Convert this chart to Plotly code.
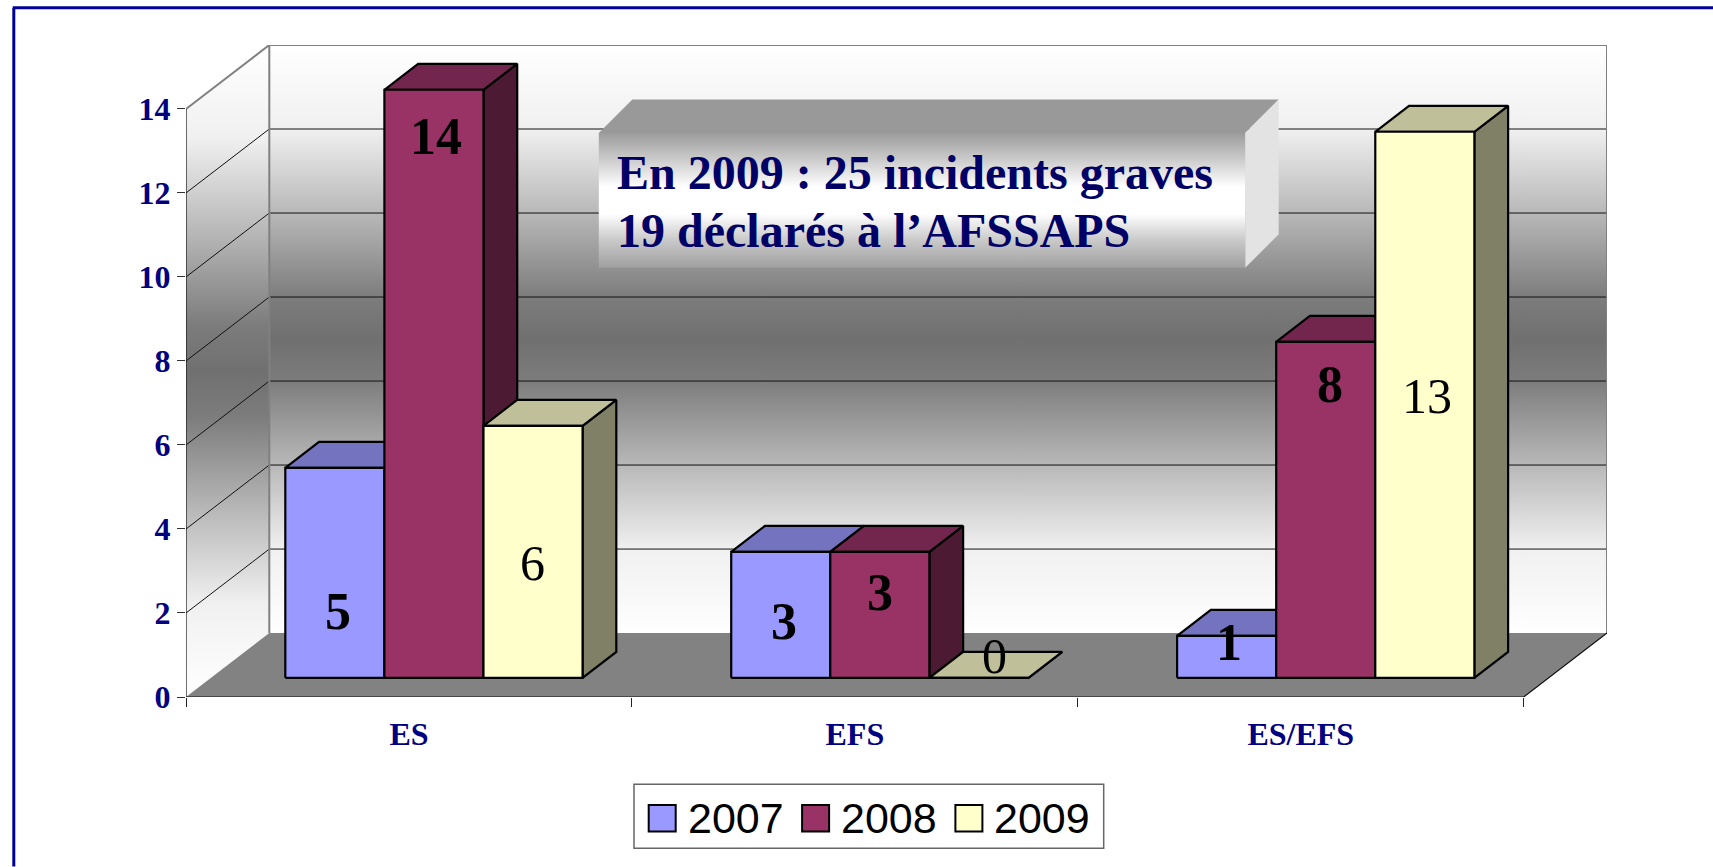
import plotly.graph_objects as go

# ---- data ----
CATEGORIES = ["ES", "EFS", "ES/EFS"]
YEARS = ["2007", "2008", "2009"]
V2007 = [5, 3, 1]
V2008 = [14, 3, 8]
V2009 = [6, 0, 13]
Y_TICKS = [0, 2, 4, 6, 8, 10, 12, 14]

# ---- style / layout constants ----
W, H = 1713, 867
L, R, T, B = 185.6, 1606.6, 44.7, 697.3     # plot rectangle in px
FRONT_R = 1523.3
CAT_PX = (FRONT_R - L) / 3
UNIT_PX = (B - T - 64.0) / 14
DX = (R - FRONT_R) / CAT_PX                 # depth in category units
DY = 64.0 / UNIT_PX                         # depth in value units
Z0, Z1 = 0.30, 0.705
BAR_W = 1 / 4.5
FACE = ["#9999FF", "#993366", "#FFFFCC"]
TOP = ["#7373BF", "#73264D", "#BFBF99"]
SIDE = ["#4D4D80", "#4D1A33", "#808066"]
NAVY = "#000080"
DARK = "#000066"
SERIF = "Liberation Serif"
WALL = [[0, "#FFFFFF"], [0.143, "#F0F0F0"], [0.286, "#B8B8B8"], [0.43, "#7C7C7C"], [0.5, "#707070"],
        [0.57, "#7C7C7C"], [0.714, "#B8B8B8"], [0.857, "#F0F0F0"], [1, "#FFFFFF"]]
BOX = [[0, "#A0A0A0"], [0.2, "#C8C8C8"], [0.4, "#FFFFFF"], [0.6, "#FFFFFF"], [0.8, "#CCCCCC"], [1, "#9C9C9C"]]

def proj(c, v, z):
    return c + z * DX, v + z * DY

def px(xp, yp):
    return (xp - L) / CAT_PX, (B - yp) / UNIT_PX

def fx(xp):
    return (xp - L) / (R - L)

def fy(yp):
    return (B - yp) / (B - T)

def poly(points, fill=None, line="#000000", width=2.2, grad=None):
    xs = [p[0] for p in points] + [points[0][0]]
    ys = [p[1] for p in points] + [points[0][1]]
    kw = dict(fillgradient=dict(type="vertical", colorscale=grad)) if grad else dict(fillcolor=fill)
    return go.Scatter(x=xs, y=ys, mode="lines", fill="toself",
                      line=dict(color=line, width=width), showlegend=False, hoverinfo="skip", **kw)

def seg(points, color, width):
    return go.Scatter(x=[p[0] for p in points], y=[p[1] for p in points], mode="lines",
                      line=dict(color=color, width=width), showlegend=False, hoverinfo="skip")

fig = go.Figure()
n = len(CATEGORIES)
# walls & floor
fig.add_trace(poly([proj(0, 0, 1), proj(n, 0, 1), proj(n, 14, 1), proj(0, 14, 1)], line="rgba(0,0,0,0)", width=0, grad=WALL))
fig.add_trace(poly([proj(0, 0, 0), proj(0, 0, 1), proj(0, 14, 1), proj(0, 14, 0)], line="rgba(0,0,0,0)", width=0, grad=WALL))
fig.add_trace(poly([proj(0, 0, 0), proj(n, 0, 0), proj(n, 0, 1), proj(0, 0, 1)], fill="#828282", line="rgba(0,0,0,0)", width=0))
# gridlines
gx, gy = [], []
for t in Y_TICKS[1:-1]:
    for p in (proj(0, t, 0), proj(0, t, 1), proj(n, t, 1)):
        gx.append(p[0]); gy.append(p[1])
    gx.append(None); gy.append(None)
fig.add_trace(go.Scatter(x=gx, y=gy, mode="lines", line=dict(color="#111111", width=1), showlegend=False, hoverinfo="skip"))
# wall edges
fig.add_trace(seg([proj(0, 0, 1), proj(0, 14, 1), proj(n, 14, 1), proj(n, 0, 1)], "#808080", 2))
fig.add_trace(seg([proj(0, 14, 0), proj(0, 14, 1)], "#808080", 2))
fig.add_trace(seg([proj(0, 14, 0), proj(0, 0, 0), proj(n, 0, 0), proj(n, 0, 1)], "#111111", 1.2))

# bars
values = [V2007, V2008, V2009]
for c in range(n):
    for s in range(3):
        v = values[s][c]
        x0 = c + 0.75 * BAR_W + s * BAR_W
        x1 = x0 + BAR_W
        fig.add_trace(poly([proj(x1, 0, Z0), proj(x1, 0, Z1), proj(x1, v, Z1), proj(x1, v, Z0)], fill=SIDE[s]))
        fig.add_trace(poly([proj(x0, v, Z0), proj(x1, v, Z0), proj(x1, v, Z1), proj(x0, v, Z1)], fill=TOP[s]))
        fig.add_trace(poly([proj(x0, 0, Z0), proj(x1, 0, Z0), proj(x1, v, Z0), proj(x0, v, Z0)], fill=FACE[s]))
        fig.data[-1].name = YEARS[s]

# data labels: hand-placed in the reference, kept here as px anchors
label_px = [
    [(338, 612), (784, 622), (1229, 642.3)],
    [(436, 136), (880, 592.7), (1330, 384)],
    [(532, 563), (994, 656), (1427, 395.7)],
]
annotations = []
for s in range(3):
    for c in range(n):
        x0 = c + 0.75 * BAR_W + s * BAR_W
        ax, ay = proj(x0 + BAR_W / 2, values[s][c], Z0)
        ox = L + ax * CAT_PX
        oy = B - ay * UNIT_PX
        lx, ly = label_px[s][c]
        annotations.append(dict(x=ax, y=ay, xref="x", yref="y", text=str(values[s][c]), showarrow=False,
                                xshift=lx - ox, yshift=oy - ly, xanchor="center", yanchor="middle",
                                font=dict(family=SERIF, size=50 if s == 2 else 52, color="#000000",
                                          weight="normal" if s == 2 else "bold")))

# 3-D text box
bl, br, bt, bb, bd = 598.4, 1244.8, 132.7, 267.7, 33.5
fig.add_trace(poly([px(bl, bt), px(br, bt), px(br + bd, bt - bd), px(bl + bd, bt - bd)], fill="#999999", line="rgba(0,0,0,0)", width=0))
fig.add_trace(poly([px(br, bt), px(br + bd, bt - bd), px(br + bd, bb - bd), px(br, bb)], fill="#E3E3E3", line="rgba(0,0,0,0)", width=0))
fig.add_trace(poly([px(bl, bt), px(br, bt), px(br, bb), px(bl, bb)], line="rgba(0,0,0,0)", width=0, grad=BOX))
for txt, yp in (("En 2009 : 25 incidents graves", 172), ("19 déclarés à l’AFSSAPS", 230)):
    annotations.append(dict(x=fx(615.0), y=fy(yp), xref="paper", yref="paper", text=txt, showarrow=False,
                            xanchor="left", yanchor="middle",
                            font=dict(family=SERIF, size=48, color=DARK, weight="bold")))

# legend drawn to the reference's swatch size
shapes = []
def rect(x0, y0, x1, y1, **kw):
    return dict(type="rect", xref="paper", yref="paper", x0=fx(x0), x1=fx(x1), y0=fy(y0), y1=fy(y1), **kw)
shapes.append(rect(633.6, 784.7, 1103.3, 848.7, fillcolor="#FFFFFF", line=dict(color="#666666", width=1.5)))
for s, (sx, tx) in enumerate(((648.3, 685.3), (801.7, 838.7), (955, 992))):
    shapes.append(rect(sx, 805.5, sx + 27, 832, fillcolor=FACE[s], line=dict(color="#000000", width=2)))
    annotations.append(dict(x=fx(tx), y=fy(818), xref="paper", yref="paper", text=YEARS[s], showarrow=False,
                            xanchor="left", yanchor="middle",
                            font=dict(family="Liberation Sans", size=43, color="#000000")))
# slide frame
for x0, y0, x1, y1 in ((12.4, 7.5, W, 7.5), (13.4, 7.5, 13.4, H)):
    shapes.append(dict(type="line", xref="paper", yref="paper", x0=fx(x0), x1=fx(x1), y0=fy(y0), y1=fy(y1),
                       line=dict(color="#000099", width=3)))

fig.update_layout(
    width=W, height=H, autosize=False, margin=dict(l=L, r=W - R, t=T, b=H - B, pad=0),
    paper_bgcolor="#FFFFFF", plot_bgcolor="rgba(0,0,0,0)", showlegend=False,
    annotations=annotations, shapes=shapes,
    xaxis=dict(range=[0, n + DX], tickmode="array",
               tickvals=[i + 0.5 for i in range(n)], ticktext=CATEGORIES, ticks="",
               showgrid=False, zeroline=False, showline=False, ticklabelstandoff=15,
               tickfont=dict(family=SERIF, size=32, color=NAVY, weight="bold"),
               minor=dict(tickmode="array", tickvals=list(range(n + 1)), ticks="outside", ticklen=9,
                          tickcolor="#222222", tickwidth=1, showgrid=False)),
    yaxis=dict(range=[0, 14 + DY], tickmode="array", tickvals=Y_TICKS, ticks="outside", ticklen=8,
               tickcolor="#333333", tickwidth=1, showgrid=False, zeroline=False, showline=False,
               tickfont=dict(family=SERIF, size=32, color=NAVY, weight="bold")),
)
fig.write_html("out.html", config={"displayModeBar": False},
               post_script="document.body.style.margin='0';document.documentElement.style.overflow='hidden';")
